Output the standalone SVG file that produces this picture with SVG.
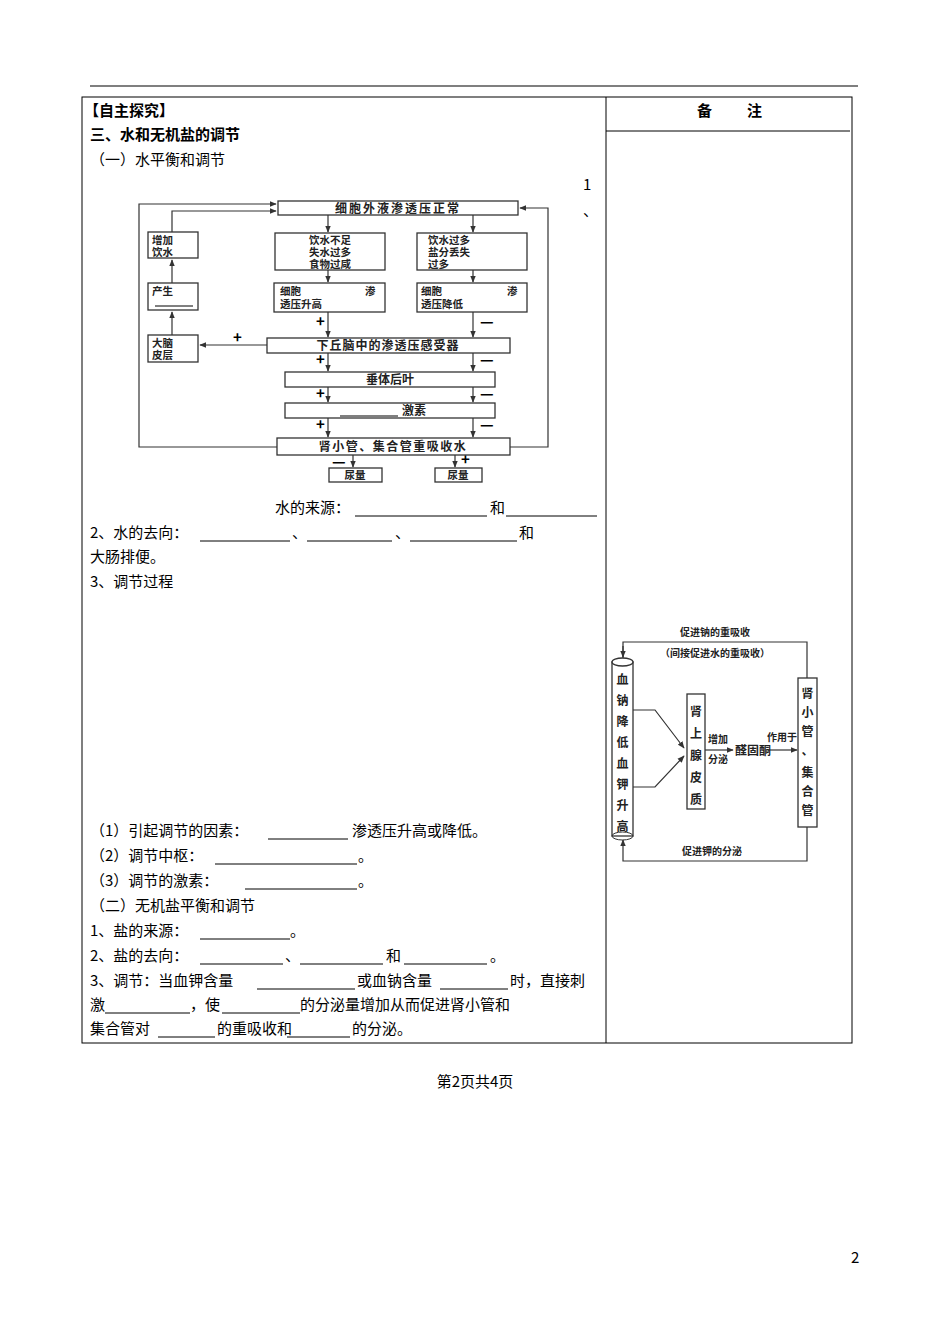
<svg xmlns="http://www.w3.org/2000/svg" width="950" height="1344" viewBox="0 0 950 1344">
<style>
text{font-family:"Noto Sans CJK SC","Liberation Serif",sans-serif;font-size:15px;fill:#000}
.b{font-weight:bold}
.f{font-size:12px;font-weight:bold;fill:#222}
.t{font-size:10.5px;font-weight:bold;fill:#222}
.s{font-size:10px;font-weight:bold;fill:#222}
.bx{fill:#fff;stroke:#333;stroke-width:1.3}
.ln{fill:none;stroke:#333;stroke-width:1.2}
.u{stroke:#000;stroke-width:1}
</style>
<defs><marker id="a" viewBox="0 0 10 10" refX="9" refY="5" markerWidth="6" markerHeight="6" orient="auto"><path d="M0,1 L10,5 L0,9 z" fill="#333"/></marker></defs>
<rect width="950" height="1344" fill="#fff"/>
<line x1="90" y1="86" x2="858" y2="86" stroke="#000" stroke-width="1.2"/>
<g id="table" fill="none" stroke="#000" stroke-width="1">
<rect x="82" y="97" width="770" height="946"/>
<line x1="606" y1="97" x2="606" y2="1043"/>
<line x1="606" y1="131" x2="850" y2="131"/>
</g>
<text x="697" y="116" class="b">备</text><text x="747" y="116" class="b">注</text>
<text x="84" y="116" class="b">【自主探究】</text>
<text x="90" y="140" class="b">三、水和无机盐的调节</text>
<text x="90" y="165">（一）水平衡和调节</text>
<text x="583" y="190" font-family="Liberation Serif">1</text>
<text x="583" y="216">、</text>

<g id="connectors">
<path class="ln" d="M277,447 H139 V204 H276" marker-end="url(#a)"/>
<path class="ln" d="M172,232 V211 H276" marker-end="url(#a)"/>
<path class="ln" d="M172,283 V260" marker-end="url(#a)"/>
<path class="ln" d="M172,335 V312" marker-end="url(#a)"/>
<path class="ln" d="M267,345 H200" marker-end="url(#a)"/>
<path class="ln" d="M510,447 H548 V208 H520" marker-end="url(#a)"/>
<path class="ln" d="M328,215 V232" marker-end="url(#a)"/>
<path class="ln" d="M328,270 V282" marker-end="url(#a)"/>
<path class="ln" d="M328,312 V337" marker-end="url(#a)"/>
<path class="ln" d="M328,353 V371" marker-end="url(#a)"/>
<path class="ln" d="M328,387 V402" marker-end="url(#a)"/>
<path class="ln" d="M328,418 V437" marker-end="url(#a)"/>
<path class="ln" d="M353,455 V467" marker-end="url(#a)"/>
<path class="ln" d="M473,215 V232" marker-end="url(#a)"/>
<path class="ln" d="M473,270 V282" marker-end="url(#a)"/>
<path class="ln" d="M473,312 V337" marker-end="url(#a)"/>
<path class="ln" d="M473,353 V371" marker-end="url(#a)"/>
<path class="ln" d="M473,387 V402" marker-end="url(#a)"/>
<path class="ln" d="M473,418 V437" marker-end="url(#a)"/>
<path class="ln" d="M455,455 V467" marker-end="url(#a)"/>
<path class="ln" d="M623,658 V642 H807 V678"/>
<path class="ln" d="M623,646 V657" marker-end="url(#a)"/>
<path class="ln" d="M807,827 V861 H623 V840" marker-end="url(#a)"/>
<path class="ln" d="M633,710 H655 L684,748" marker-end="url(#a)"/>
<path class="ln" d="M633,787 H655 L684,756" marker-end="url(#a)"/>
<path class="ln" d="M705,750 H733" marker-end="url(#a)"/>
<path class="ln" d="M768,750 H797" marker-end="url(#a)"/>
</g>
<g class="s">
<text x="316" y="327">+</text><text x="480" y="327">—</text>
<text x="233" y="343">+</text>
<text x="316" y="365">+</text><text x="480" y="365">—</text>
<text x="316" y="399">+</text><text x="480" y="399">—</text>
<text x="316" y="430">+</text><text x="480" y="430">—</text>
<text x="332" y="467">—</text><text x="461" y="465">+</text>
</g>
<g id="n1"><rect class="bx" x="278" y="201" width="240" height="14"/><text class="f" x="398" y="212.5" text-anchor="middle" letter-spacing="2">细胞外液渗透压正常</text></g>
<g id="n2"><rect class="bx" x="148" y="232" width="50" height="26"/><text class="t" x="152" y="244">增加</text><text class="t" x="152" y="256">饮水</text></g>
<g id="n3"><rect class="bx" x="148" y="283" width="50" height="27"/><text class="t" x="152" y="295">产生</text><line x1="155" y1="306" x2="193" y2="306" class="u"/></g>
<g id="n4"><rect class="bx" x="148" y="335" width="50" height="27"/><text class="t" x="152" y="347">大脑</text><text class="t" x="152" y="359">皮层</text></g>
<g id="n5"><rect class="bx" x="275" y="233" width="110" height="37"/><text class="t" x="330" y="244" text-anchor="middle">饮水不足</text><text class="t" x="330" y="256" text-anchor="middle">失水过多</text><text class="t" x="330" y="268" text-anchor="middle">食物过咸</text></g>
<g id="n6"><rect class="bx" x="417" y="233" width="110" height="37"/><text class="t" x="428" y="244">饮水过多</text><text class="t" x="428" y="256">盐分丢失</text><text class="t" x="428" y="268">过多</text></g>
<g id="n7"><rect class="bx" x="274" y="283" width="111" height="29"/><text class="t" x="280" y="295">细胞</text><text class="t" x="365" y="295">渗</text><text class="t" x="280" y="308">透压升高</text></g>
<g id="n8"><rect class="bx" x="417" y="283" width="110" height="29"/><text class="t" x="421" y="295">细胞</text><text class="t" x="507" y="295">渗</text><text class="t" x="421" y="308">透压降低</text></g>
<g id="n9"><rect class="bx" x="267" y="338" width="243" height="15"/><text class="f" x="388" y="350" text-anchor="middle" letter-spacing="1">下丘脑中的渗透压感受器</text></g>
<g id="n10"><rect class="bx" x="285" y="372" width="210" height="15"/><text class="f" x="390" y="384" text-anchor="middle">垂体后叶</text></g>
<g id="n11"><rect class="bx" x="285" y="403" width="210" height="15"/><line x1="340" y1="416" x2="398" y2="416" class="u"/><text class="f" x="402" y="415">激素</text></g>
<g id="n12"><rect class="bx" x="277" y="438" width="233" height="17"/><text class="f" x="393" y="451" text-anchor="middle" letter-spacing="1.5">肾小管、集合管重吸收水</text></g>
<g id="n13"><rect class="bx" x="329" y="468" width="53" height="14"/><text class="t" x="355" y="479" text-anchor="middle">尿量</text></g>
<g id="n14"><rect class="bx" x="435" y="468" width="47" height="14"/><text class="t" x="458" y="479" text-anchor="middle">尿量</text></g>

<text x="275" y="513">水的来源：</text><line class="u" x1="355" y1="516" x2="487" y2="516"/><text x="490" y="513">和</text><line class="u" x1="506" y1="516" x2="597" y2="516"/>
<text x="90" y="538">2、水的去向：</text><line class="u" x1="200" y1="541" x2="290" y2="541"/><text x="292" y="538">、</text><line class="u" x1="307" y1="541" x2="392" y2="541"/><text x="395" y="538">、</text><line class="u" x1="410" y1="541" x2="517" y2="541"/><text x="519" y="538">和</text>
<text x="90" y="562">大肠排便。</text>
<text x="90" y="587">3、调节过程</text>
<text x="90" y="836">（1）引起调节的因素：</text><line class="u" x1="268" y1="839" x2="348" y2="839"/><text x="352" y="836">渗透压升高或降低。</text>
<text x="90" y="861">（2）调节中枢：</text><line class="u" x1="215" y1="864" x2="357" y2="864"/><text x="358" y="861">。</text>
<text x="90" y="886">（3）调节的激素：</text><line class="u" x1="245" y1="889" x2="357" y2="889"/><text x="358" y="886">。</text>
<text x="90" y="911">（二）无机盐平衡和调节</text>
<text x="90" y="936">1、盐的来源：</text><line class="u" x1="200" y1="939" x2="290" y2="939"/><text x="290" y="936">。</text>
<text x="90" y="961">2、盐的去向：</text><line class="u" x1="200" y1="964" x2="283" y2="964"/><text x="285" y="961">、</text><line class="u" x1="300" y1="964" x2="383" y2="964"/><text x="386" y="961">和</text><line class="u" x1="404" y1="964" x2="487" y2="964"/><text x="490" y="961">。</text>
<text x="90" y="986">3、调节：当血钾含量</text><line class="u" x1="257" y1="989" x2="355" y2="989"/><text x="357" y="986">或血钠含量</text><line class="u" x1="440" y1="989" x2="508" y2="989"/><text x="510" y="986">时，直接刺</text>
<text x="90" y="1010">激</text><line class="u" x1="105" y1="1013" x2="190" y2="1013"/><text x="190" y="1010">，使</text><line class="u" x1="222" y1="1013" x2="300" y2="1013"/><text x="300" y="1010">的分泌量增加从而促进肾小管和</text>
<text x="90" y="1034">集合管对</text><line class="u" x1="158" y1="1037" x2="215" y2="1037"/><text x="217" y="1034">的重吸收和</text><line class="u" x1="287" y1="1037" x2="350" y2="1037"/><text x="352" y="1034">的分泌。</text>

<text x="475" y="1087" text-anchor="middle">第2页共4页</text>
<text x="851" y="1263" font-family="Liberation Serif">2</text>

<text class="s" x="715" y="636" text-anchor="middle">促进钠的重吸收</text>
<text class="s" x="715" y="657" text-anchor="middle">（间接促进水的重吸收）</text>
<g id="r1"><rect class="bx" x="612" y="662" width="21" height="174"/><ellipse cx="622.5" cy="662" rx="10.5" ry="4" class="bx"/><ellipse cx="622.5" cy="836" rx="10.5" ry="4" fill="none" stroke="#333"/>
<text class="f" x="622.5" text-anchor="middle"><tspan x="622.5" y="684">血</tspan><tspan x="622.5" y="705">钠</tspan><tspan x="622.5" y="726">降</tspan><tspan x="622.5" y="747">低</tspan><tspan x="622.5" y="768">血</tspan><tspan x="622.5" y="789">钾</tspan><tspan x="622.5" y="810">升</tspan><tspan x="622.5" y="831">高</tspan></text></g>
<g id="r2"><rect class="bx" x="687" y="694" width="18" height="115"/><text class="f" text-anchor="middle"><tspan x="696" y="716">肾</tspan><tspan x="696" y="738">上</tspan><tspan x="696" y="760">腺</tspan><tspan x="696" y="782">皮</tspan><tspan x="696" y="804">质</tspan></text></g>
<text class="s" x="708" y="743">增加</text><text class="s" x="708" y="763">分泌</text>
<text class="f" x="735" y="755" font-size="11">醛固酮</text>
<text class="s" x="767" y="741" font-size="9.5">作用于</text>
<g id="r3"><rect class="bx" x="798" y="678" width="19" height="149"/><text class="f" text-anchor="middle"><tspan x="807.5" y="698">肾</tspan><tspan x="807.5" y="717">小</tspan><tspan x="807.5" y="736">管</tspan><tspan x="807.5" y="755">、</tspan><tspan x="807.5" y="777">集</tspan><tspan x="807.5" y="796">合</tspan><tspan x="807.5" y="815">管</tspan></text></g>
<text class="s" x="712" y="855" text-anchor="middle">促进钾的分泌</text>
</svg>
